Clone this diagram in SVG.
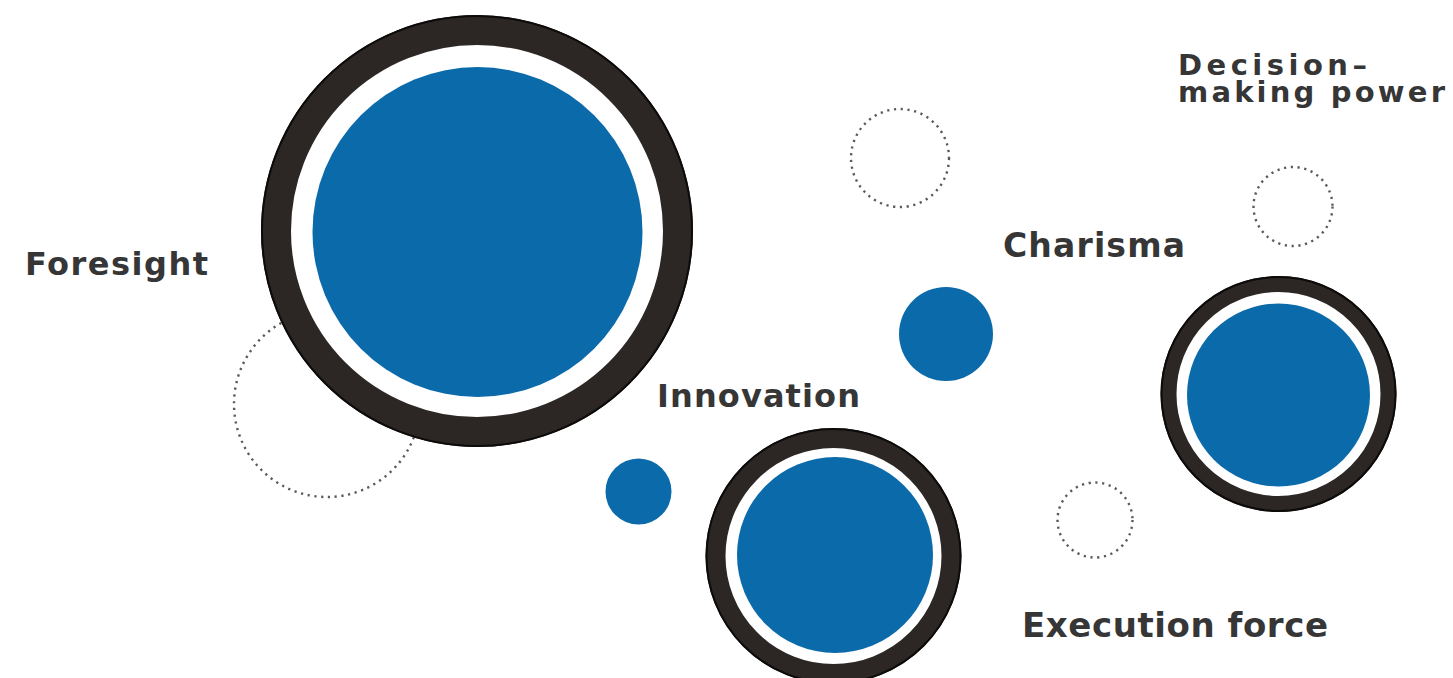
<svg xmlns="http://www.w3.org/2000/svg" width="1453" height="678" viewBox="0 0 1453 678">
  <style>
    .blue { fill: #0b6aaa; }
    .ring { fill: #ffffff; stroke: #2c2725; }
    .edge { fill: none; stroke: #0d0b0a; stroke-width: 2; }
    .dots { fill: none; stroke: #5a5a5a; stroke-width: 2.4; stroke-dasharray: 2.2 4.6; }
    .lbl { font-family: "DejaVu Sans", "Liberation Sans", Arial, sans-serif; font-weight: 700; fill: #363636; }
  </style>
  <rect width="1453" height="678" fill="#ffffff"/>
  <g id="connectors"/>

  <g id="dotted-circles">
    <circle class="dots" cx="327" cy="404" r="93"/>
    <circle class="dots" cx="900" cy="158" r="49"/>
    <circle class="dots" cx="1293" cy="206.5" r="39.5"/>
    <circle class="dots" cx="1095" cy="520" r="37.5"/>
  </g>

  <g id="foresight">
    <circle class="ring" cx="477" cy="231" r="201" stroke-width="30"/>
    <circle class="edge" cx="477" cy="231" r="215"/>
    <circle class="blue" cx="477.5" cy="232" r="165"/>
    <text class="lbl" x="25" y="275" font-size="32" textLength="183" lengthAdjust="spacing">Foresight</text>
  </g>

  <g id="innovation">
    <circle class="ring" cx="833.5" cy="556" r="118" stroke-width="20"/>
    <circle class="edge" cx="833.5" cy="556" r="127"/>
    <circle class="blue" cx="835" cy="555" r="98"/>
    <circle class="blue" cx="638.5" cy="491.5" r="33"/>
    <text class="lbl" x="657" y="407" font-size="32" textLength="203" lengthAdjust="spacing">Innovation</text>
  </g>

  <g id="charisma">
    <circle class="blue" cx="946" cy="334" r="47"/>
    <text class="lbl" x="1003" y="257" font-size="33" textLength="182" lengthAdjust="spacing">Charisma</text>
  </g>

  <g id="decision-making-power">
    <circle class="ring" cx="1278.5" cy="394" r="110" stroke-width="16"/>
    <circle class="edge" cx="1278.5" cy="394" r="117"/>
    <circle class="blue" cx="1278.5" cy="395" r="91.5"/>
    <text class="lbl" x="1178" y="75" font-size="29" textLength="189" lengthAdjust="spacing">Decision–</text>
    <text class="lbl" x="1178" y="102" font-size="29" textLength="267" lengthAdjust="spacing">making power</text>
  </g>

  <g id="execution-force">
    <text class="lbl" x="1022" y="637" font-size="34" textLength="306" lengthAdjust="spacing">Execution force</text>
  </g>
</svg>
